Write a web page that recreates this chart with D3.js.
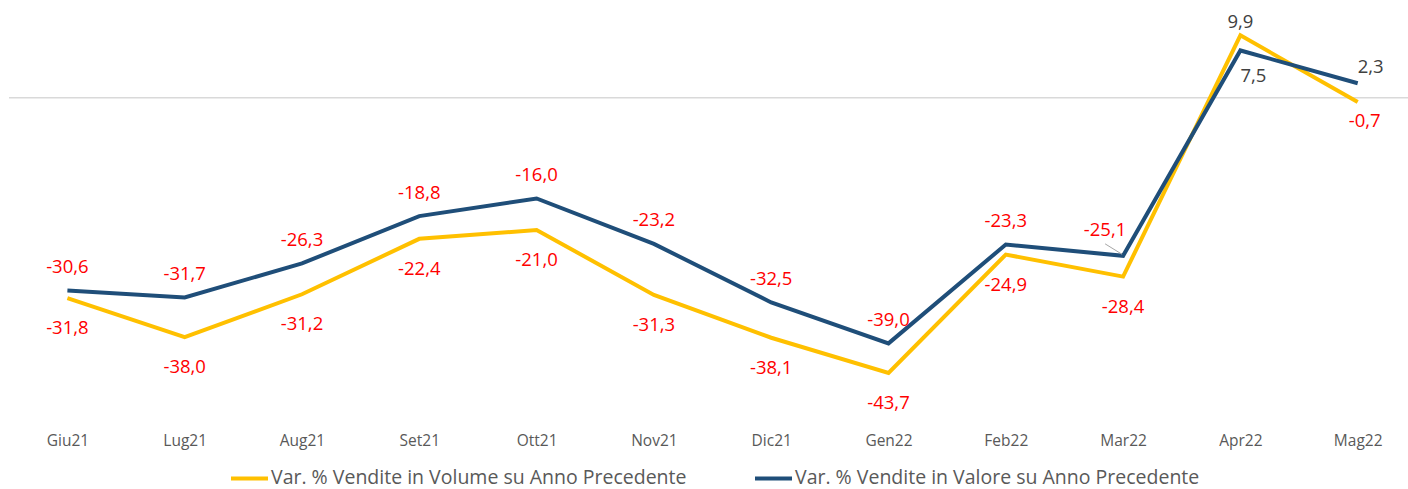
<!DOCTYPE html>
<html>
<head>
<meta charset="utf-8">
<script src="https://cdn.jsdelivr.net/npm/d3@7/dist/d3.min.js"></script>
<style>
  html, body { margin: 0; padding: 0; background: #fff; }
  svg { display: block; font-family: "Open Sans", Lato, sans-serif; }
</style>
</head>
<body>
<svg id="chart" width="1408" height="489"></svg>
<script>
// ---- data ----
const categories = ["Giu21","Lug21","Aug21","Set21","Ott21","Nov21","Dic21","Gen22","Feb22","Mar22","Apr22","Mag22"];
const volume = [-31.8, -38.0, -31.2, -22.4, -21.0, -31.3, -38.1, -43.7, -24.9, -28.4, 9.9, -0.7];
const valore = [-30.6, -31.7, -26.3, -18.8, -16.0, -23.2, -32.5, -39.0, -23.3, -25.1, 7.5, 2.3];
const seriesNames = ["Var. % Vendite in Volume su Anno Precedente", "Var. % Vendite in Valore su Anno Precedente"];

// label placement tweaks (pixel offsets of label centre relative to the point)
const volumeLabelOffsets = categories.map(() => [0, 29.5]);
volumeLabelOffsets[10] = [0, -14];
volumeLabelOffsets[11] = [7, 18];
const valoreLabelOffsets = categories.map(() => [0, -24]);
valoreLabelOffsets[9] = [-18, -26.5];
valoreLabelOffsets[10] = [13, 25];
valoreLabelOffsets[11] = [13, -17];

const svg = d3.select("#chart");
const x = d3.scalePoint().domain(categories).range([67.4, 1357.7]);
const y = d3.scaleLinear().domain([-50, 15]).range([97.7 + 6.3 * 50, 97.7 - 6.3 * 15]);

// zero line
svg.append("line")
  .attr("x1", 9).attr("x2", 1408)
  .attr("y1", y(0)).attr("y2", y(0))
  .attr("stroke", "#D9D9D9").attr("stroke-width", 1.5);

// x axis labels
const xAxis = d3.axisBottom(x).tickSize(0).tickPadding(0);
const gx = svg.append("g").attr("transform", "translate(0,434.5)").call(xAxis);
gx.select(".domain").remove();
gx.selectAll("text")
  .attr("fill", "#595959")
  .attr("dy", "0.72em")
  .attr("y", 0)
  .style("font-size", "15.5px")
  .style("font-family", "'Open Sans', Lato, sans-serif");

const colors = ["#FFC000", "#1F4E79"];
const line = d3.line().x((d, i) => x(categories[i])).y(d => y(d));

[volume, valore].forEach((s, k) => {
  svg.append("path")
    .datum(s)
    .attr("d", line)
    .attr("fill", "none")
    .attr("stroke", colors[k])
    .attr("stroke-width", 4)
    .attr("stroke-linejoin", "miter");
});

// leader line for Mar22 valore label
{
  const i = 9;
  const px = x(categories[i]), py = y(valore[i]);
  svg.append("line")
    .attr("x1", px - 18).attr("y1", py - 12)
    .attr("x2", px - 1).attr("y2", py - 1.5)
    .attr("stroke", "#A6A6A6").attr("stroke-width", 1);
}

// data labels
function addLabels(s, offsets) {
  svg.append("g").selectAll("text")
    .data(s)
    .join("text")
    .attr("x", (d, i) => x(categories[i]) + offsets[i][0])
    .attr("y", (d, i) => y(d) + offsets[i][1] + 6.6)
    .attr("text-anchor", "middle")
    .attr("fill", d => d < 0 ? "#FF0000" : "#404040")
    .style("font-size", "18.5px")
    .text(d => d3.format(".1f")(d).replace(".", ",").replace("−", "-"));
}
addLabels(volume, volumeLabelOffsets);
addLabels(valore, valoreLabelOffsets);

// legend
const legendItems = [
  { name: seriesNames[0], color: colors[0], x: 231 },
  { name: seriesNames[1], color: colors[1], x: 755 }
];
const lg = svg.append("g");
legendItems.forEach(it => {
  lg.append("line")
    .attr("x1", it.x).attr("x2", it.x + 37)
    .attr("y1", 478.5).attr("y2", 478.5)
    .attr("stroke", it.color).attr("stroke-width", 4);
  lg.append("text")
    .attr("x", it.x + 40).attr("y", 484.3)
    .attr("fill", "#595959")
    .style("font-size", "19.5px")
    .text(it.name);
});
</script>
</body>
</html>
